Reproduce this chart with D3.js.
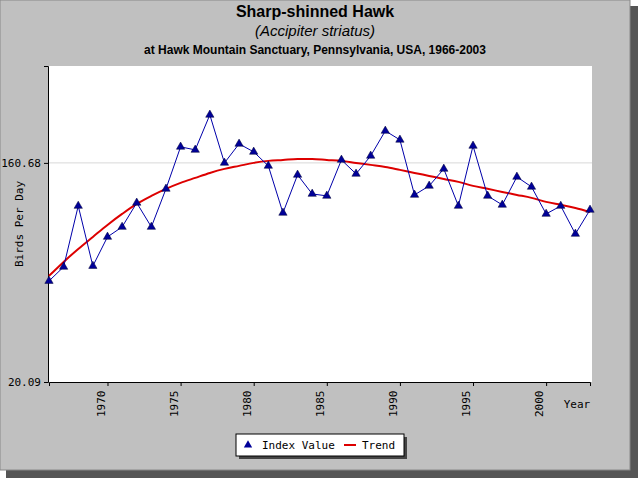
<!DOCTYPE html>
<html><head><meta charset="utf-8">
<script src="https://cdn.jsdelivr.net/npm/d3@7"></script>
<style>body{margin:0;background:#fff}text{font-family:"Liberation Sans",Arial,sans-serif}text.mono{font-family:"DejaVu Sans Mono",monospace}</style>
</head><body>
<svg id="chart" width="640" height="480"></svg>
<script>
const years = d3.range(1966, 2004);
const indexValues = [52.4,59.9,106.8,60.4,79.6,87.5,110.0,87.5,125.6,187.1,181.8,253.5,160.7,192.5,178.4,156.2,100.0,143.4,119.7,117.5,165.3,144.8,171.8,217.7,200.0,118.6,129.2,151.8,106.8,188.9,117.5,107.9,140.7,128.0,99.0,106.8,81.9,102.9];
const trendValues = [55.0,62.8,71.0,79.6,89.2,99.0,108.9,117.5,125.6,132.9,139.4,146.1,151.8,156.2,160.7,163.8,165.3,166.9,166.9,165.3,163.8,160.7,157.7,154.7,150.4,146.1,142.0,138.0,134.2,129.2,125.6,122.0,118.6,115.3,111.0,107.9,104.8,100.9];
const yTicks = [20.09, 160.68];
const xTicks = [1970,1975,1980,1985,1990,1995,2000];

const svg = d3.select("#chart");
const m = {left:48, right:592, top:66, bottom:382};

// frame with shadow
svg.append("rect").attr("x",6).attr("y",6).attr("width",632).attr("height",472).attr("fill","#555");
svg.append("rect").attr("x",0).attr("y",0).attr("width",630).attr("height",470).attr("fill","#c0c0c0").attr("stroke","#888");

svg.append("text").attr("x",315).attr("y",17).attr("text-anchor","middle").attr("font-weight","bold").attr("font-size",16).text("Sharp-shinned Hawk");
svg.append("text").attr("x",315).attr("y",36).attr("text-anchor","middle").attr("font-style","italic").attr("font-size",15).text("(Accipiter striatus)");
svg.append("text").attr("x",315).attr("y",54).attr("text-anchor","middle").attr("font-weight","bold").attr("font-size",12).text("at Hawk Mountain Sanctuary, Pennsylvania, USA, 1966-2003");

const x = d3.scaleLinear().domain([1966,2003]).range([m.left+1, m.right-2]);
const y = d3.scaleLog().domain([20.09, 403]).range([m.bottom, m.top]);

svg.append("rect").attr("x",m.left).attr("y",m.top).attr("width",m.right-m.left).attr("height",m.bottom-m.top).attr("fill","#fff");

svg.append("line").attr("x1",m.left).attr("x2",m.right).attr("y1",y(160.68)).attr("y2",y(160.68)).attr("stroke","#d8d8d8");

const yAxis = svg.append("g").attr("transform",`translate(${m.left},0)`)
  .call(d3.axisLeft(y).tickValues(yTicks).tickFormat(d3.format(".2f")).tickSize(4));
yAxis.selectAll("text").attr("class","mono").attr("font-size",11);
const xAxis = svg.append("g").attr("transform",`translate(0,${m.bottom})`)
  .call(d3.axisBottom(x).tickValues(xTicks).tickFormat(d3.format("d")).tickSize(4));
xAxis.selectAll("text").attr("class","mono").attr("font-size",11)
  .attr("transform","rotate(-90)").attr("text-anchor","end").attr("dx","-0.6em").attr("dy","-0.3em").attr("y",0).attr("x",-2);
svg.selectAll(".domain").attr("stroke","#000");

svg.append("text").attr("class","mono").attr("x",577).attr("y",408).attr("text-anchor","middle").attr("font-size",11).text("Year");
svg.append("text").attr("class","mono").attr("transform","translate(23,224) rotate(-90)").attr("text-anchor","middle").attr("font-size",11).text("Birds Per Day");

const trend = years.map((yr,i)=>({yr, v:trendValues[i]}));
const idx = years.map((yr,i)=>({yr, v:indexValues[i]}));
const line = d3.line().x(d=>x(d.yr)).y(d=>y(d.v));
svg.append("path").datum(trend).attr("d",line.curve(d3.curveMonotoneX)).attr("fill","none").attr("stroke","#dd0000").attr("stroke-width",2);
svg.append("path").datum(idx).attr("d",d3.line().x(d=>x(d.yr)).y(d=>y(d.v))).attr("fill","none").attr("stroke","#0000aa").attr("stroke-width",1);
const tri = d3.symbol().type(d3.symbolTriangle).size(30);
svg.selectAll(".pt").data(idx).enter().append("path").attr("class","pt")
  .attr("transform",d=>`translate(${x(d.yr)},${y(d.v)})`).attr("d",tri).attr("fill","#000099").attr("stroke","#000033").attr("stroke-width",0.5);

// legend
const lg = svg.append("g").attr("transform","translate(236,434)");
lg.append("rect").attr("x",3).attr("y",3).attr("width",168).attr("height",22).attr("fill","#444");
lg.append("rect").attr("width",168).attr("height",22).attr("fill","#fff").attr("stroke","#000");
lg.append("path").attr("transform","translate(12,11)").attr("d",tri).attr("fill","#000099");
lg.append("text").attr("class","mono").attr("x",26).attr("y",15).attr("font-size",11).text("Index Value");
lg.append("line").attr("x1",108).attr("x2",120).attr("y1",11).attr("y2",11).attr("stroke","#dd0000").attr("stroke-width",2);
lg.append("text").attr("class","mono").attr("x",126).attr("y",15).attr("font-size",11).text("Trend");
</script>
</body></html>
